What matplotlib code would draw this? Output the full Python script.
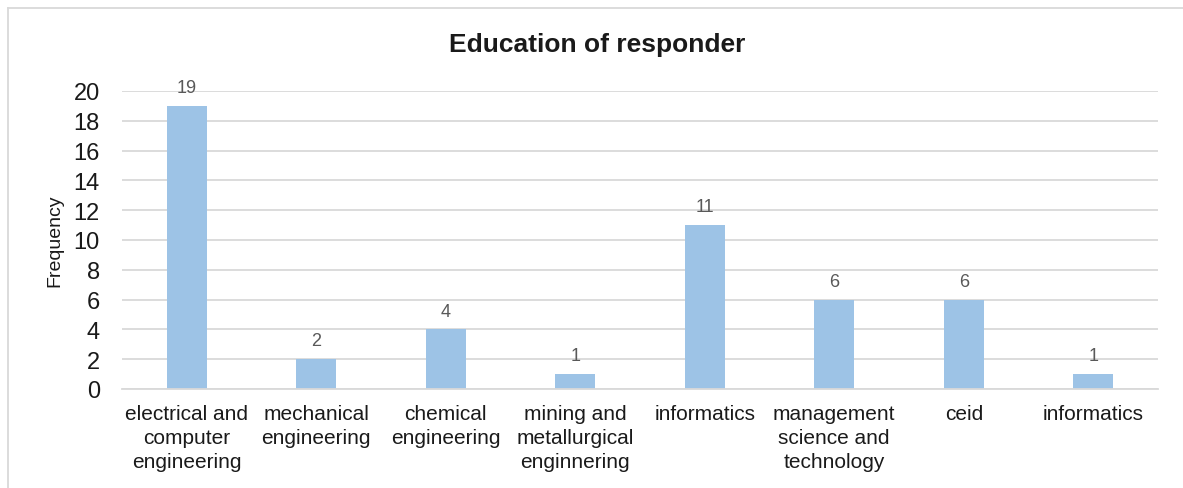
import matplotlib.pyplot as plt
from matplotlib.lines import Line2D

categories = [
    "electrical and\ncomputer\nengineering",
    "mechanical\nengineering",
    "chemical\nengineering",
    "mining and\nmetallurgical\nenginnering",
    "informatics",
    "management\nscience and\ntechnology",
    "ceid",
    "informatics",
]
frequency = [19, 2, 4, 1, 11, 6, 6, 1]
y_ticks = [0, 2, 4, 6, 8, 10, 12, 14, 16, 18, 20]

bar_color = "#9dc3e6"
grid_color = "#d9d9d9"

plt.rcParams.update({"font.family": ["Liberation Sans", "DejaVu Sans"]})

fig = plt.figure(figsize=(11.83, 4.89), dpi=100)
ax = fig.add_axes([122 / 1183, 1 - 390 / 489, (1158 - 122) / 1183, (390 - 92) / 489])

x = range(len(categories))
ax.bar(x, frequency, width=0.31, color=bar_color, zorder=3)
for xi, v in zip(x, frequency):
    ax.annotate(str(v), (xi, v), xytext=(0, 7), textcoords="offset points",
                ha="center", va="bottom", fontsize=13, color="#595959")

ax.set_xlim(-0.5, len(categories) - 0.5)
ax.set_ylim(0, 20)
ax.set_yticks(y_ticks)
ax.set_xticks(list(x))
ax.set_xticklabels(categories, fontsize=15, linespacing=1.33, color="#1a1a1a")
ax.tick_params(axis="y", length=0, pad=16, labelsize=17, labelcolor="#1a1a1a")
ax.tick_params(axis="x", length=0, pad=11)
ax.yaxis.grid(True, color=grid_color, linewidth=1.3, zorder=0)
for side in ["top", "right", "left"]:
    ax.spines[side].set_visible(False)
ax.spines["bottom"].set_color(grid_color)
ax.spines["bottom"].set_linewidth(1.3)
ax.spines["bottom"].set_zorder(4)

ax.set_ylabel("Frequency", fontsize=14, labelpad=7, color="#1a1a1a")
fig.text(597 / 1183, 1 - 45 / 489, "Education of responder", ha="center", va="center",
         fontsize=19, fontweight="bold", color="#1a1a1a")

# outer chart frame (only top and left edges visible in the crop)
fig.add_artist(Line2D([8 / 1183, 8 / 1183], [0, 1 - 9 / 489], color=grid_color, linewidth=1.3))
fig.add_artist(Line2D([8 / 1183, 1], [1 - 9 / 489, 1 - 9 / 489], color=grid_color, linewidth=1.3))

fig.savefig("out.png", dpi=100, facecolor="white")
